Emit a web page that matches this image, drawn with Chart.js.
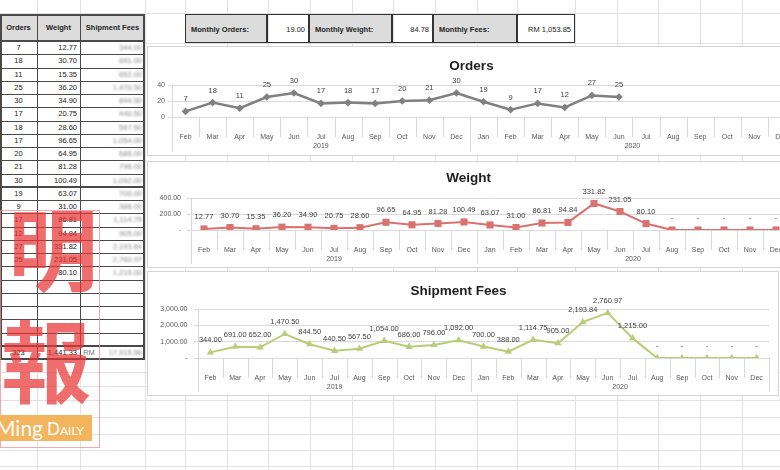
<!DOCTYPE html>
<html lang="en">
<head>
<meta charset="UTF-8" />
<title>Shipments</title>
<script src="https://cdn.jsdelivr.net/npm/chart.js@4.4.1/dist/chart.umd.min.js"></script>
<style>
  html, body { margin: 0; padding: 0; width: 780px; height: 470px; overflow: hidden; background: #fff;
    font-family: "Liberation Sans", Arial, sans-serif; }
  .a { position: absolute; box-sizing: border-box; }
  .gl { background: #e2e2e2; }
  .ln { background: #4a4a4a; }
  .cell { font-size: 7.5px; color: #222; white-space: nowrap; overflow: hidden; text-align: center; }
  .cell.r { text-align: right; padding-right: 3px; }
  .cell.head { background: #dcdcdc; font-weight: bold; }
  .blur { color: #8a8a8a; filter: blur(1.3px); }
  .sum { border: 1.5px solid #333; font-size: 7.5px; color: #222; padding: 0 5px; white-space: nowrap; }
  .sum.lab { background: #dcdcdc; font-weight: bold; }
  .sum.val { text-align: right; padding-right: 3px; }
  .box { background: #fff; outline: 1px solid #d4d4d4; overflow: hidden; z-index: 1; }
  .box canvas { position: absolute; left: 0; top: 0; }
  .cjk { font-family: "Noto Sans CJK TC"; font-weight: 700; font-size: 90px; line-height: 1;
    color: rgba(233, 52, 52, 0.72); z-index: 3; }
  .logo { z-index: 3; background: #f3b45e; overflow: hidden; color: #fff; font-family: Lato, sans-serif; }
</style>
</head>
<body>
  <div class="a box" style="left:148px;top:47px;width:714px;height:108px"><canvas id="ordersChart" width="714" height="108"></canvas></div>
  <div class="a box" style="left:148px;top:162px;width:714px;height:105px"><canvas id="weightChart" width="714" height="105"></canvas></div>
  <div class="a box" style="left:148px;top:272px;width:630px;height:123px"><canvas id="feesChart" width="714" height="123"></canvas></div>

  <div class="a" style="left:0;top:210px;width:100px;height:238px;border:1px solid rgba(238,140,140,0.75);z-index:3"></div>
  <div class="a cjk" style="left:8px;top:200px">明</div>
  <div class="a cjk" style="left:1px;top:312px">報</div>
  <div class="a logo" style="left:0;top:415px;width:92px;height:26px">
    <span style="position:absolute;left:-4px;top:0px;font-size:21px;line-height:26px">Ming</span>
    <span style="position:absolute;left:47px;top:0px;font-size:17px;line-height:27px;font-variant:small-caps">Daily</span>
  </div>

<script>
const months = ['Feb','Mar','Apr','May','Jun','Jul','Aug','Sep','Oct','Nov','Dec',
                'Jan','Feb','Mar','Apr','May','Jun','Jul','Aug','Sep','Oct','Nov','Dec'];
const years = ['2019', '2020'];
const monthsInYear = [11, 12];

const orders = [7, 18, 11, 25, 30, 17, 18, 17, 20, 21, 30,
                19, 9, 17, 12, 27, 25, null, null, null, null, null, null];
const weight = [12.77, 30.70, 15.35, 36.20, 34.90, 20.75, 28.60, 96.65, 64.95, 81.28, 100.49,
                63.07, 31.00, 86.81, 94.84, 331.82, 231.05, 80.10, 0, 0, 0, 0, 0];
const fees = [344.00, 691.00, 652.00, 1470.50, 844.50, 440.50, 567.50, 1054.00, 686.00, 796.00, 1092.00,
              700.00, 388.00, 1114.75, 905.00, 2193.84, 2760.97, 1215.00, 0, 0, 0, 0, 0];

const ordersTicks = [0, 20, 40];
const weightTicks = [0, 200, 400];
const feesTicks = [0, 1000, 2000, 3000];

const tableHeads = ['Orders', 'Weight', 'Shipment Fees'];
const summaryLabels = ['Monthly Orders:', 'Monthly Weight:', 'Monthly Fees:'];
const summaryValues = ['19.00', '84.78', 'RM  1,053.85'];

function money(v) {
  return v === 0 ? '-' : v.toLocaleString('en-US', { minimumFractionDigits: 2, maximumFractionDigits: 2 });
}

function put(cls, x, y, w, h, text) {
  const d = document.createElement('div');
  d.className = 'a ' + cls;
  d.style.cssText += `left:${x}px;top:${y}px;width:${w}px;height:${h}px;line-height:${h}px;`;
  if (text != null) d.textContent = text;
  document.body.appendChild(d);
  return d;
}

// sheet gridlines
[37, 80, 145, 185, 227, 268, 310, 352, 393, 435, 477, 517, 575, 617, 658, 700, 742].forEach(x => put('gl', x, 0, 1, 470));
[13, 43, 372, 386, 400, 417, 434, 450, 466].forEach(y => put('gl', 0, y, 780, 1));

// left table
const cols = [0, 37, 80, 145];
const top0 = 14, headH = 27, rowH = 13.25;
const nRows = months.length + 1;
put('cell head', 0, top0, 145, headH);
tableHeads.forEach((h, c) => put('cell head', cols[c], top0, cols[c + 1] - cols[c], headH, h));
for (let i = 0; i < months.length; i++) {
  const y = top0 + headH + i * rowH;
  put('cell', 0, y, 145, rowH).style.background = '#fff';
  if (weight[i] > 0) {
    put('cell', cols[0], y, cols[1], rowH, orders[i] == null ? '' : orders[i]);
    put('cell r', cols[1], y, cols[2] - cols[1], rowH, weight[i].toFixed(2));
    put('cell r blur', cols[2], y, cols[3] - cols[2], rowH, money(fees[i]));
  }
}
const totY = top0 + headH + months.length * rowH;
const sum = a => a.reduce((s, v) => s + (v || 0), 0);
put('cell', 0, totY, 145, rowH).style.background = '#fff';
put('cell', cols[0], totY, cols[1], rowH, sum(orders));
put('cell r', cols[1], totY, cols[2] - cols[1], rowH, money(sum(weight)));
put('cell', cols[2], totY, 18, rowH, 'RM').style.color = '#777';
put('cell r blur', cols[2] + 18, totY, cols[3] - cols[2] - 18, rowH, money(sum(fees)));
// table borders
const bottom = totY + rowH;
cols.forEach((x, c) => put('ln', c === 3 ? x - 2 : x, top0, c === 0 || c === 3 ? 2 : 1, bottom - top0));
put('ln', 0, top0, 145, 2);
put('ln', 0, top0 + headH - 1, 145, 2);
for (let i = 1; i <= nRows; i++) {
  const y = top0 + headH + i * rowH;
  const thick = i === monthsInYear[0] || i === months.length || i === nRows;
  put('ln', 0, Math.round(y) - (thick ? 1 : 0), 145, thick ? 2 : 1);
}

// summary bar
const sx = [185, 267, 309, 392, 433, 517, 575];
summaryLabels.forEach((l, k) => {
  put('sum lab', sx[2 * k], 14, sx[2 * k + 1] - sx[2 * k], 29, l);
  put('sum val', sx[2 * k + 1], 14, sx[2 * k + 2] - sx[2 * k + 1], 29, summaryValues[k]);
});

// Excel style category axis: month separators + year groups
function excelAxis(shortLen, longLen, yearOffset) {
  return {
    id: 'excelAxis',
    afterDraw(chart) {
      const ctx = chart.ctx, x = chart.scales.x, base = chart.chartArea.bottom;
      const step = x.getPixelForValue(1) - x.getPixelForValue(0);
      const edge = i => Math.round(x.getPixelForValue(0) - step / 2 + i * step) + 0.5;
      const yearEdges = [0];
      monthsInYear.forEach(n => yearEdges.push(yearEdges[yearEdges.length - 1] + n));
      ctx.save();
      ctx.strokeStyle = '#d9d9d9';
      ctx.lineWidth = 1;
      for (let i = 0; i <= months.length; i++) {
        const len = yearEdges.includes(i) ? longLen : shortLen;
        ctx.beginPath();
        ctx.moveTo(edge(i), base);
        ctx.lineTo(edge(i), base + len);
        ctx.stroke();
      }
      ctx.fillStyle = '#595959';
      ctx.font = '7px "Liberation Sans"';
      ctx.textAlign = 'center';
      ctx.textBaseline = 'middle';
      years.forEach((yr, k) => {
        const a = x.getPixelForValue(yearEdges[k]), b = x.getPixelForValue(yearEdges[k + 1] - 1);
        ctx.fillText(yr, (a + b) / 2, base + yearOffset);
      });
      ctx.restore();
    }
  };
}

function pointLabels(format) {
  return {
    id: 'pointLabels',
    afterDatasetsDraw(chart) {
      const ctx = chart.ctx;
      const data = chart.data.datasets[0].data;
      ctx.save();
      ctx.font = '7.5px "Liberation Sans"';
      ctx.fillStyle = '#404040';
      ctx.textAlign = 'center';
      ctx.textBaseline = 'middle';
      chart.getDatasetMeta(0).data.forEach((pt, i) => {
        if (data[i] == null) return;
        ctx.fillText(format(data[i]), pt.x, pt.y - 12);
      });
      ctx.restore();
    }
  };
}

function lineChart(id, c) {
  const font = { family: 'Liberation Sans', size: 7 };
  return new Chart(document.getElementById(id), {
    type: 'line',
    data: {
      labels: months,
      datasets: [{
        data: c.values, borderColor: c.color, backgroundColor: c.color, borderWidth: c.lineWidth,
        pointStyle: c.marker, pointRadius: c.radius, pointBorderWidth: 0, tension: 0, spanGaps: false
      }]
    },
    options: {
      responsive: false, animation: false, events: [],
      layout: { autoPadding: false, padding: { left: 0, right: c.right, top: 0, bottom: 0 } },
      plugins: {
        legend: { display: false }, tooltip: { enabled: false },
        title: {
          display: true, text: c.title, color: '#1e1e1e',
          font: { family: 'Liberation Sans', size: 13.5, weight: 'bold', lineHeight: 1.2 },
          padding: { top: c.titleTop, bottom: c.titleBottom }
        }
      },
      scales: {
        x: {
          offset: true, grid: { display: false }, border: { display: false },
          ticks: { color: '#595959', font, padding: 7.5, maxRotation: 0, autoSkip: false },
          afterFit: s => { s.height = c.xHeight; }
        },
        y: {
          min: c.ticks[0], max: c.ticks[c.ticks.length - 1],
          ticks: { stepSize: c.ticks[1] - c.ticks[0], color: '#595959', font, padding: c.tickPad, callback: c.tickFmt },
          grid: { color: '#d9d9d9', tickLength: 4 }, border: { color: '#d9d9d9' },
          afterFit: s => { s.width = c.yWidth; }
        }
      }
    },
    plugins: [excelAxis(20, c.longSep, 29), pointLabels(c.labelFmt)]
  });
}

lineChart('ordersChart', {
  values: orders, title: 'Orders', color: '#808080', lineWidth: 2.5, marker: 'rectRot', radius: 3.8,
  ticks: ordersTicks, tickFmt: v => String(v), labelFmt: v => String(v), tickPad: 3,
  yWidth: 24, right: 67, xHeight: 38, titleTop: 10.9, titleBottom: 10.9, longSep: 35
});
lineChart('weightChart', {
  values: weight, title: 'Weight', color: '#d9726f', lineWidth: 2, marker: 'rect', radius: 5,
  ticks: weightTicks, tickFmt: v => money(v), labelFmt: v => money(v), tickPad: 6,
  yWidth: 43, right: 73, xHeight: 37, titleTop: 7.9, titleBottom: 11.9, longSep: 34
});
lineChart('feesChart', {
  values: fees, title: 'Shipment Fees', color: '#b6cf77', lineWidth: 2, marker: 'triangle', radius: 4.2,
  ticks: feesTicks, tickFmt: v => money(v), labelFmt: v => money(v), tickPad: 6.5,
  yWidth: 50, right: 93, xHeight: 37, titleTop: 10.9, titleBottom: 9.9, longSep: 34
});
</script>
</body>
</html>
